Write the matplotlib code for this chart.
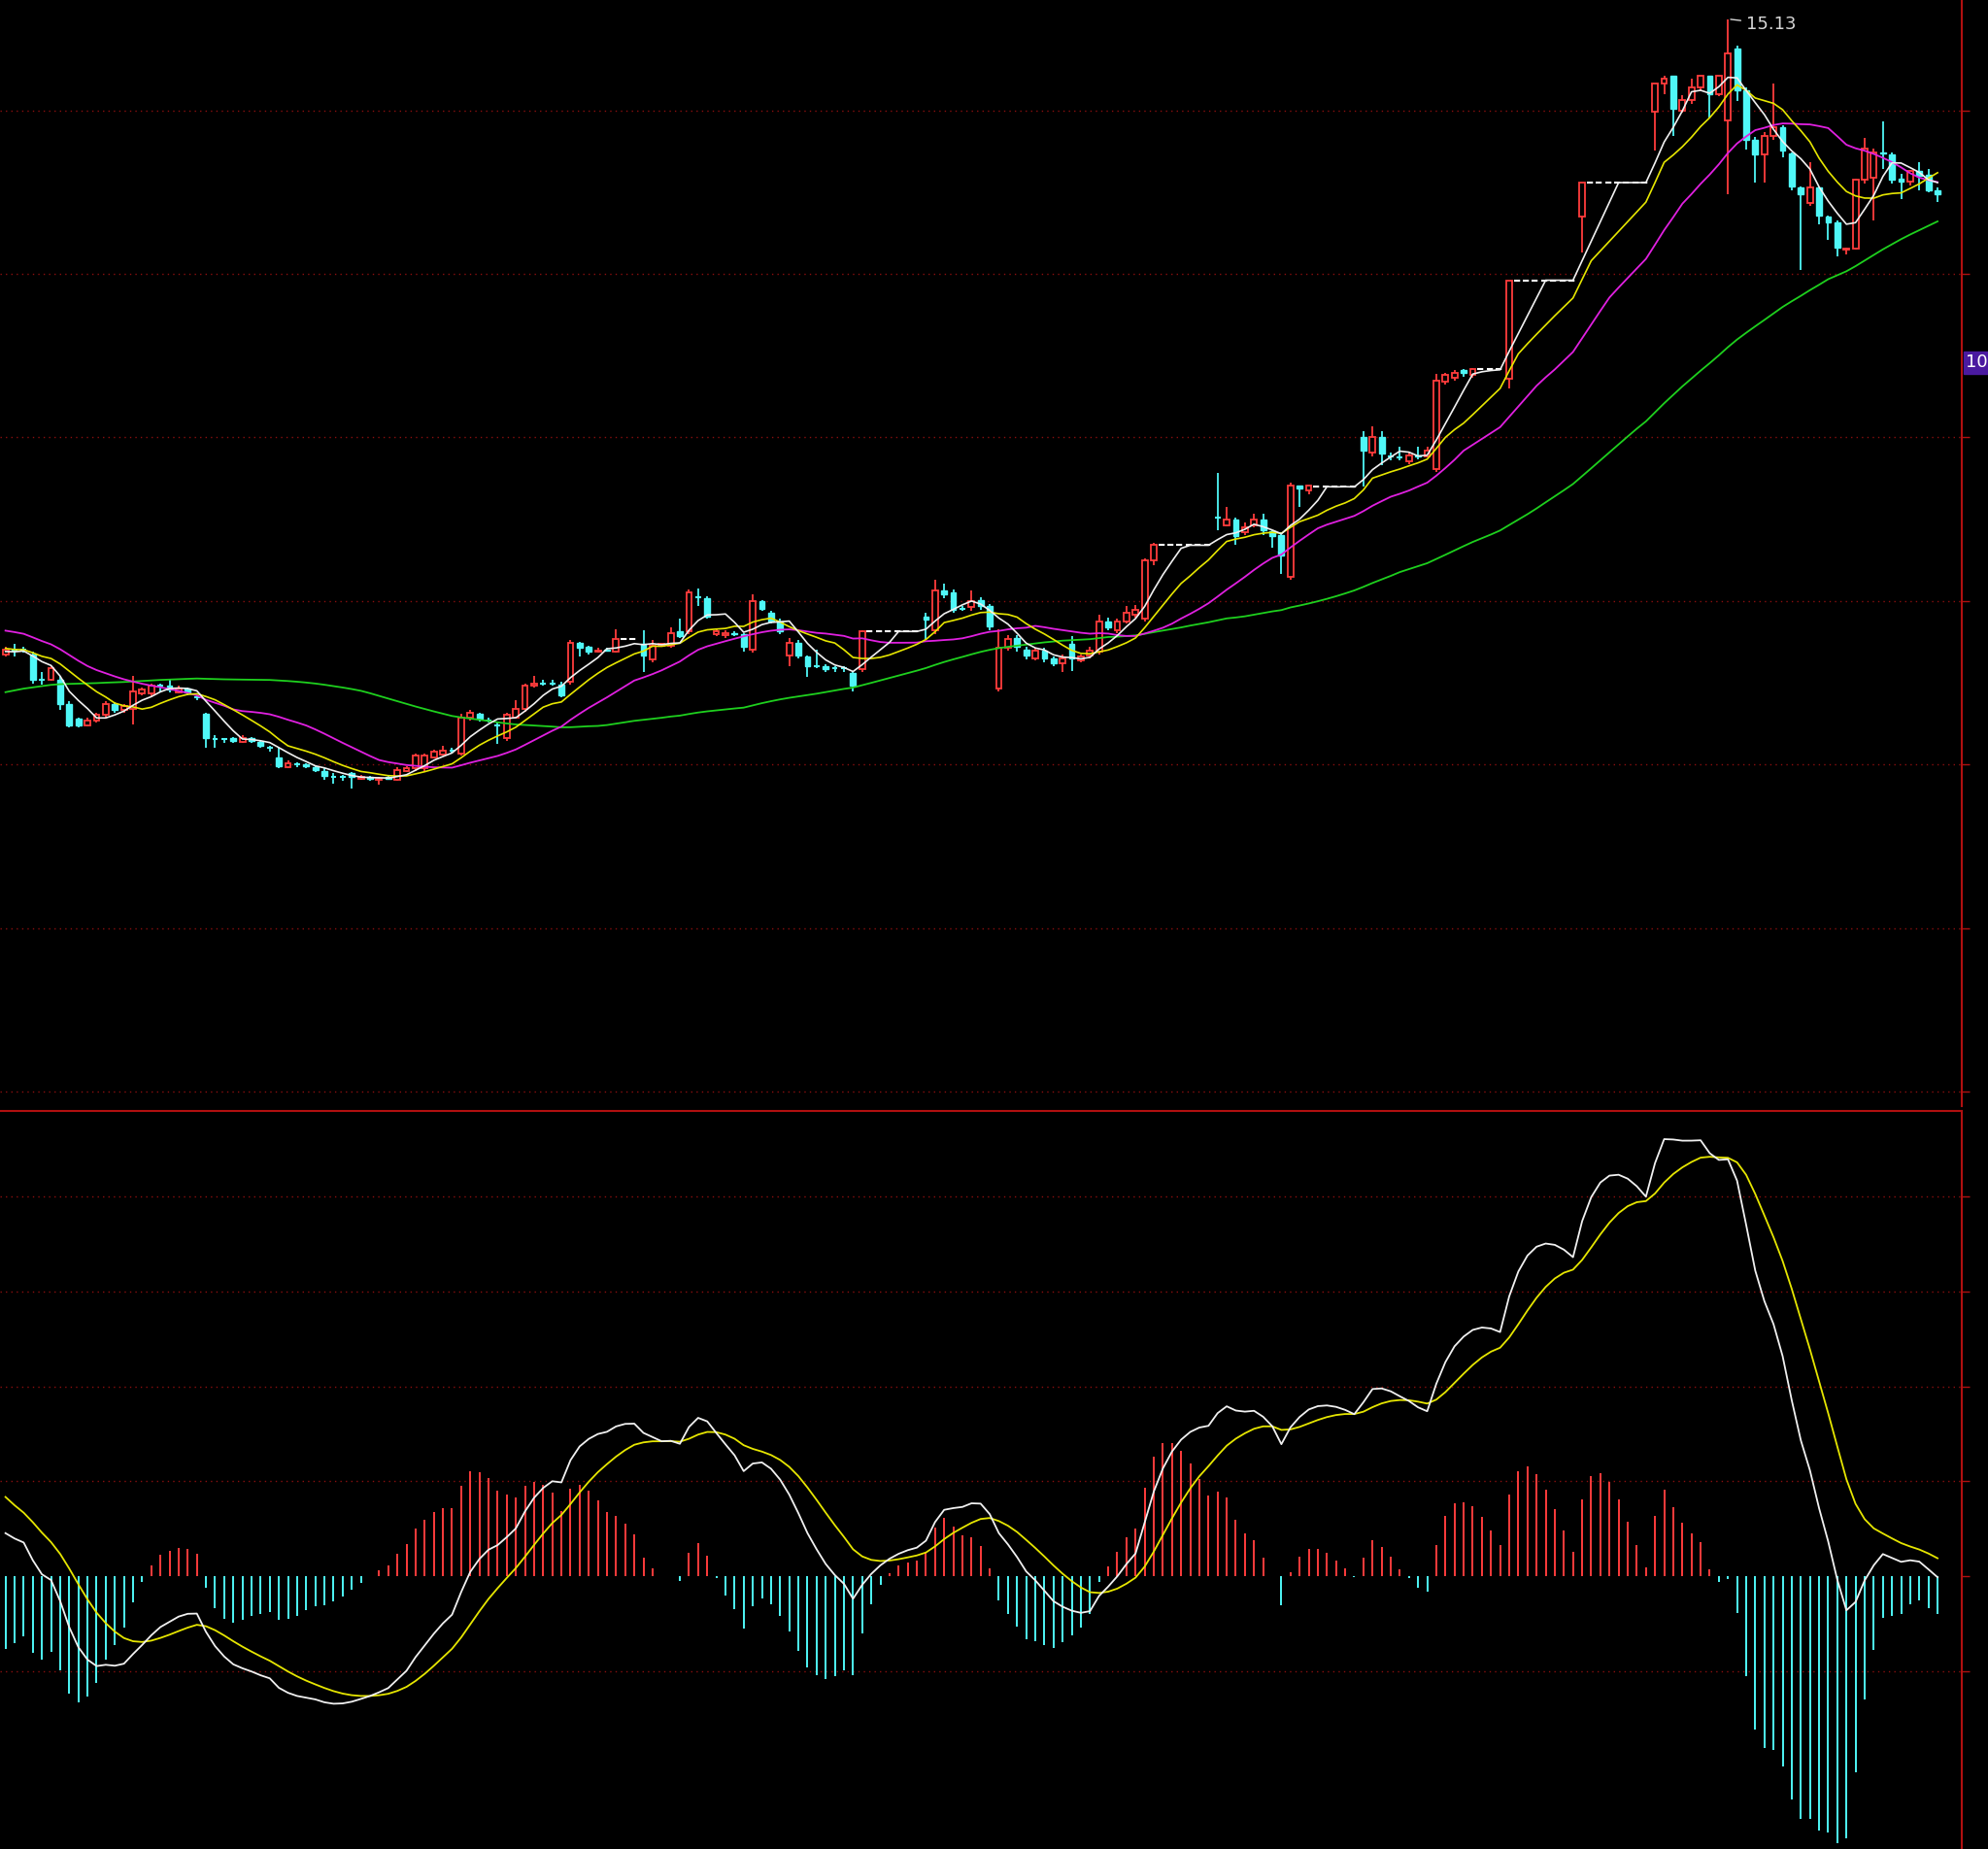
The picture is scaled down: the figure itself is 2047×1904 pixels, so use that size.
import numpy as np
import pandas as pd
import matplotlib
matplotlib.use("Agg")
import matplotlib.pyplot as plt
import matplotlib.transforms as mtransforms

# ---------------- data ----------------
pre_closes = [9.28,9.30,9.32,9.33,9.36,9.38,9.40,9.43,9.45,9.48,9.50,9.52,9.53,9.55,9.58,9.60,9.62,9.63,9.65,9.68,
              9.66,9.63,9.60,9.58,9.56,9.53,9.50,9.48,9.46,9.45,9.48,9.53,9.58,9.63,9.68,9.73,9.78,9.83,9.88,9.98,
              10.28,10.38,10.43,10.48,10.50,10.53,10.50,10.48,10.46,10.43,10.28,10.23,10.18,10.16,10.20,10.18,10.16,10.13,10.12,10.14]

candles = [  # open, close, high, low
(10.12,10.16,10.18,10.10),(10.15,10.15,10.20,10.10),(10.16,10.16,10.18,10.13),(10.12,9.92,10.14,9.89),(9.92,9.92,9.98,9.88),
(9.92,10.01,10.03,9.91),(9.92,9.73,9.95,9.68),(9.73,9.56,9.75,9.54),(9.61,9.56,9.62,9.54),(9.56,9.60,9.62,9.55),
(9.60,9.64,9.66,9.58),(9.64,9.73,9.75,9.62),(9.73,9.68,9.74,9.66),(9.68,9.71,9.73,9.66),(9.69,9.83,9.95,9.57),
(9.81,9.84,9.86,9.80),(9.81,9.87,9.89,9.79),(9.87,9.87,9.89,9.83),(9.87,9.84,9.93,9.82),(9.82,9.85,9.87,9.81),
(9.85,9.82,9.86,9.80),(9.78,9.78,9.80,9.76),(9.65,9.46,9.66,9.38),(9.45,9.45,9.48,9.38),(9.45,9.45,9.46,9.42),
(9.46,9.44,9.47,9.42),(9.43,9.46,9.48,9.42),(9.46,9.44,9.47,9.42),(9.43,9.40,9.44,9.38),(9.38,9.38,9.40,9.35),
(9.31,9.24,9.38,9.22),(9.23,9.26,9.28,9.22),(9.25,9.25,9.27,9.23),(9.25,9.24,9.26,9.22),(9.23,9.21,9.24,9.19),
(9.20,9.16,9.22,9.13),(9.15,9.15,9.18,9.10),(9.15,9.15,9.17,9.12),(9.18,9.15,9.19,9.06),(9.14,9.15,9.17,9.13),
(9.15,9.14,9.16,9.12),(9.13,9.14,9.15,9.09),(9.15,9.14,9.16,9.13),(9.13,9.21,9.23,9.12),(9.20,9.22,9.24,9.19),
(9.22,9.32,9.34,9.20),(9.22,9.32,9.34,9.20),(9.31,9.35,9.37,9.30),(9.33,9.36,9.40,9.32),(9.36,9.36,9.38,9.34),
(9.34,9.62,9.65,9.32),(9.62,9.66,9.68,9.60),(9.65,9.61,9.66,9.59),(9.60,9.60,9.62,9.58),(9.56,9.56,9.58,9.41),
(9.46,9.64,9.66,9.44),(9.62,9.69,9.76,9.61),(9.69,9.87,9.89,9.67),(9.87,9.89,9.95,9.86),(9.89,9.89,9.92,9.87),
(9.89,9.89,9.92,9.87),(9.88,9.80,9.90,9.78),(9.90,10.21,10.23,9.88),(10.21,10.17,10.22,10.10),(10.18,10.14,10.19,10.12),
(10.14,10.15,10.17,10.13),(10.16,10.15,10.17,10.14),(10.14,10.24,10.32,10.13),(10.24,10.24,10.24,10.24),(10.24,10.24,10.24,10.24),
(10.20,10.11,10.31,9.98),(10.08,10.19,10.23,10.06),(10.19,10.20,10.21,10.18),(10.19,10.29,10.33,10.17),(10.30,10.26,10.40,10.25),
(10.30,10.61,10.63,10.28),(10.57,10.57,10.64,10.50),(10.56,10.42,10.58,10.40),(10.28,10.30,10.32,10.26),(10.27,10.29,10.31,10.25),
(10.29,10.28,10.30,10.26),(10.28,10.18,10.29,10.14),(10.16,10.54,10.59,10.13),(10.54,10.48,10.55,10.46),(10.45,10.38,10.46,10.36),
(10.38,10.30,10.40,10.28),(10.11,10.21,10.25,10.03),(10.21,10.11,10.23,10.09),(10.10,10.03,10.11,9.94),(10.03,10.03,10.16,10.01),
(10.03,10.00,10.04,9.98),(10.01,10.01,10.03,9.98),(10.01,10.01,10.03,9.98),(9.97,9.87,9.99,9.83),(10.00,10.30,10.31,9.98),
(10.30,10.30,10.30,10.30),(10.30,10.30,10.30,10.30),(10.30,10.30,10.30,10.30),(10.30,10.30,10.30,10.30),(10.30,10.30,10.30,10.30),
(10.30,10.30,10.30,10.30),(10.42,10.39,10.45,10.24),(10.31,10.62,10.71,10.28),(10.62,10.59,10.68,10.56),(10.61,10.47,10.63,10.45),
(10.48,10.48,10.50,10.46),(10.49,10.54,10.62,10.46),(10.55,10.50,10.57,10.47),(10.50,10.34,10.52,10.31),(9.85,10.17,10.32,9.83),
(10.17,10.24,10.27,10.15),(10.25,10.18,10.27,10.14),(10.16,10.11,10.18,10.08),(10.09,10.15,10.17,10.07),(10.15,10.09,10.17,10.06),
(10.09,10.05,10.10,10.03),(10.05,10.09,10.12,9.98),(10.20,10.09,10.26,9.99),(10.07,10.10,10.12,10.06),(10.11,10.15,10.18,10.09),
(10.14,10.38,10.43,10.12),(10.38,10.33,10.41,10.31),(10.31,10.38,10.40,10.29),(10.38,10.45,10.50,10.36),(10.43,10.47,10.51,10.41),
(10.40,10.86,10.88,10.38),(10.86,10.98,11.00,10.82),(10.98,10.98,10.98,10.98),(10.98,10.98,10.98,10.98),(10.98,10.98,10.98,10.98),
(10.98,10.98,10.98,10.98),(10.98,10.98,10.98,10.98),(10.98,10.98,10.98,10.98),(11.20,11.20,11.55,11.10),(11.14,11.18,11.28,11.13),
(11.18,11.05,11.20,10.98),(11.08,11.12,11.16,11.06),(11.14,11.18,11.23,11.12),(11.18,11.10,11.23,11.06),(11.09,11.05,11.10,10.96),
(11.06,10.90,11.08,10.75),(10.73,11.45,11.47,10.71),(11.45,11.43,11.45,11.28),(11.41,11.45,11.45,11.38),(11.44,11.44,11.44,11.44),
(11.44,11.44,11.44,11.44),(11.44,11.44,11.44,11.44),(11.44,11.44,11.44,11.44),(11.44,11.44,11.44,11.44),(11.83,11.73,11.88,11.44),
(11.71,11.83,11.92,11.68),(11.83,11.70,11.88,11.61),(11.68,11.68,11.71,11.65),(11.67,11.67,11.76,11.65),(11.64,11.69,11.71,11.62),
(11.69,11.68,11.76,11.66),(11.68,11.73,11.76,11.67),(11.58,12.28,12.33,11.56),(12.27,12.32,12.34,12.25),(12.30,12.34,12.36,12.28),
(12.36,12.34,12.37,12.31),(12.32,12.37,12.38,12.30),(12.37,12.37,12.37,12.37),(12.37,12.37,12.37,12.37),(12.37,12.37,12.37,12.37),
(12.29,13.07,13.07,12.22),(13.07,13.07,13.07,13.07),(13.07,13.07,13.07,13.07),(13.07,13.07,13.07,13.07),(13.07,13.07,13.07,13.07),
(13.07,13.07,13.07,13.07),(13.07,13.07,13.07,13.07),(13.07,13.07,13.07,13.07),(13.57,13.84,13.84,13.29),(13.84,13.84,13.84,13.84),
(13.84,13.84,13.84,13.84),(13.84,13.84,13.84,13.84),(13.84,13.84,13.84,13.84),(13.84,13.84,13.84,13.84),(13.84,13.84,13.84,13.84),
(13.84,13.84,13.84,13.84),(14.40,14.62,14.62,14.09),(14.62,14.66,14.68,14.54),(14.68,14.42,14.68,14.21),(14.41,14.49,14.53,14.39),
(14.49,14.59,14.66,14.46),(14.59,14.68,14.68,14.56),(14.68,14.54,14.68,14.35),(14.54,14.68,14.68,14.52),(14.33,14.86,15.13,13.75),
(14.90,14.57,14.92,14.48),(14.57,14.18,14.59,14.10),(14.18,14.06,14.20,13.84),(14.06,14.21,14.24,13.84),(14.21,14.28,14.62,14.18),
(14.28,14.09,14.29,14.04),(14.07,13.81,14.08,13.78),(13.80,13.75,13.81,13.15),(13.68,13.80,14.00,13.66),(13.80,13.58,13.81,13.51),
(13.57,13.53,13.58,13.39),(13.53,13.33,13.54,13.26),(13.31,13.32,13.33,13.27),(13.32,13.86,13.87,13.31),(13.86,14.11,14.19,13.83),
(13.88,14.08,14.11,13.54),(14.08,14.07,14.32,13.95),(14.06,13.86,14.08,13.83),(13.87,13.85,13.91,13.71),(13.85,13.93,13.94,13.82),
(13.93,13.89,14.00,13.78),(13.90,13.78,13.95,13.76),(13.78,13.75,13.80,13.69),
]
opens = [c[0] for c in candles]
closes = [c[1] for c in candles]
highs = [c[2] for c in candles]
lows = [c[3] for c in candles]

price_grid = [14.41, 13.12, 11.83, 10.54, 9.25, 7.96, 6.67]
high_label = "15.13"
side_label_value = 12.42
side_label_text = "10."

# ---------------- computation ----------------
n = len(candles)
allc = pd.Series(pre_closes + closes)
npre = len(pre_closes)
ma5 = allc.rolling(5, min_periods=1).mean().values[npre:]
ma10 = allc.rolling(10, min_periods=1).mean().values[npre:]
ma20 = allc.rolling(20, min_periods=1).mean().values[npre:]
ma60 = allc.rolling(60, min_periods=1).mean().values[npre:]
ema12 = allc.ewm(span=12, adjust=False).mean()
ema26 = allc.ewm(span=26, adjust=False).mean()
dif_all = ema12 - ema26
dea_all = dif_all.ewm(span=9, adjust=False).mean()
dif = dif_all.values[npre:]
dea = dea_all.values[npre:]
hist = 2 * (dif - dea)

x = np.arange(n)
o = np.array(opens); c = np.array(closes); h = np.array(highs); l = np.array(lows)

RED = "#ff3c3c"
CYAN = "#4ff7f7"
BG = "black"
GRID = "#8a0f0f"

W, H = 2047, 1904
fig = plt.figure(figsize=(W / 100, H / 100), dpi=100, facecolor=BG)
axw = 0.987
ax = fig.add_axes([0, 0.402, axw, 0.598], facecolor=BG)
ax2 = fig.add_axes([0, 0.0, axw, 0.399], facecolor=BG)

xlim = (-0.6, 1548 / 7.19 - 0.6)
for a in (ax, ax2):
    a.set_xlim(*xlim)
    for s in ("top", "left", "bottom"):
        a.spines[s].set_visible(False)
    a.spines["right"].set_color("#b01010")
    a.spines["right"].set_linewidth(1.5)
    a.set_xticks([])
    a.yaxis.tick_right()
    a.tick_params(axis="y", colors="#b01010", length=6, labelright=False, width=1)

ax2.spines["top"].set_visible(True)
ax2.spines["top"].set_color("#b01010")
ax2.spines["top"].set_linewidth(1.5)

# price panel
ax.set_ylim(6.56, 15.28)
ax.set_yticks(price_grid)
for g in price_grid:
    ax.axhline(g, color=GRID, lw=1.0, ls=(0, (1, 3)), zorder=0)

bw = 0.62
flat = (h == l)
up = (c > o) & ~flat
dn = (c < o) & ~flat
dj = (c == o) & ~flat

# wicks
ax.vlines(x[up], l[up], h[up], color=RED, lw=1.3, zorder=2)
ax.vlines(x[dn | dj], l[dn | dj], h[dn | dj], color=CYAN, lw=1.3, zorder=2)
# bodies
ax.bar(x[up], c[up] - o[up], bw, bottom=o[up], facecolor=BG, edgecolor=RED, lw=1.3, zorder=3)
ax.bar(x[dn], o[dn] - c[dn], bw, bottom=c[dn], facecolor=CYAN, edgecolor=CYAN, lw=1.0, zorder=3)
ax.hlines(c[dj], x[dj] - bw / 2, x[dj] + bw / 2, color=CYAN, lw=1.5, zorder=3)
ax.hlines(c[flat], x[flat] - 0.5, x[flat] + 0.5, color="white", lw=1.5, ls=(0, (3, 2)), zorder=3)

ax.plot(x, ma60, color="#1ed01e", lw=1.3, zorder=4)
ax.plot(x, ma20, color="#e020e0", lw=1.3, zorder=4)
ax.plot(x, ma10, color="#e6e600", lw=1.2, zorder=4)
ax.plot(x, ma5, color="#f0f0f0", lw=1.2, zorder=5)

ih = int(np.argmax(h))
ax.annotate(high_label, xy=(x[ih], h[ih]), xytext=(x[ih] + 2.0, h[ih] - 0.04),
            color="#d8d8d8", fontsize=13, va="center", ha="left",
            arrowprops=dict(arrowstyle="-", color="#d8d8d8", lw=1.0))

trans = mtransforms.blended_transform_factory(ax.transAxes, ax.transData)
ax.text(1.002, side_label_value, side_label_text, transform=trans, color="white", fontsize=13,
        va="center", ha="left", clip_on=False,
        bbox=dict(boxstyle="square,pad=0.15", facecolor="#4a1aa0", edgecolor="#4a1aa0"))

# MACD panel
top = np.max(dif) * 367 / 345
bot = -top * 215 / 367
ax2.set_ylim(bot, top)
step = top * 75 / 367
mgrid = [step * k for k in (-1, 1, 2, 3, 4)]
ax2.set_yticks(mgrid + [0])
for g in mgrid:
    ax2.axhline(g, color=GRID, lw=1.0, ls=(0, (1, 3)), zorder=0)
pos = hist >= 0
ax2.vlines(x[pos], 0, hist[pos], color=RED, lw=1.4, zorder=2)
ax2.vlines(x[~pos], 0, hist[~pos], color=CYAN, lw=1.4, zorder=2)
ax2.plot(x, dea, color="#e6e600", lw=1.3, zorder=3)
ax2.plot(x, dif, color="#f0f0f0", lw=1.3, zorder=4)

fig.savefig("out.png", dpi=100, facecolor=BG)
